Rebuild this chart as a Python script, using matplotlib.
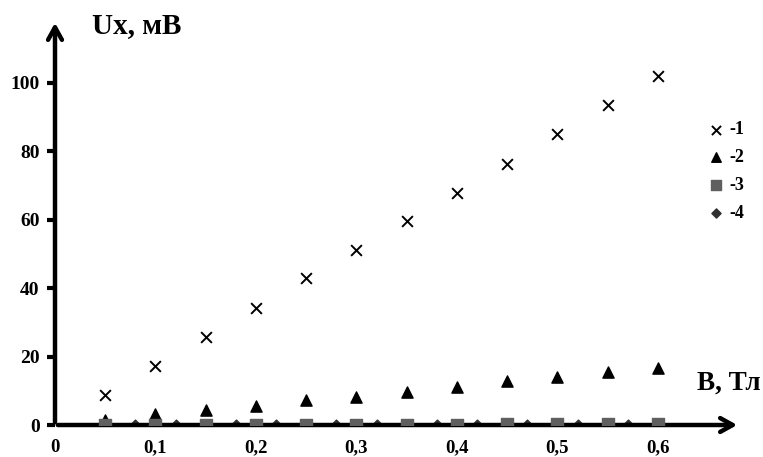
import matplotlib
matplotlib.use("Agg")
import matplotlib.pyplot as plt

B = [0.05, 0.10, 0.15, 0.20, 0.25, 0.30, 0.35, 0.40, 0.45, 0.50, 0.55, 0.60]
U1 = [8.8, 17.2, 25.7, 34.2, 43.0, 51.2, 59.6, 67.8, 76.3, 85.0, 93.6, 102.0]
U2 = [1.6, 3.2, 4.4, 5.6, 7.3, 8.3, 9.7, 11.2, 12.9, 13.9, 15.6, 16.8]
U3 = [0.1, 0.1, 0.1, 0.1, 0.1, 0.1, 0.1, 0.1, 0.2, 0.2, 0.2, 0.2]
B4 = [0.08, 0.12, 0.18, 0.22, 0.28, 0.32, 0.38, 0.42, 0.47, 0.52, 0.57]
U4 = [0.1, 0.1, 0.1, 0.1, 0.1, 0.1, 0.1, 0.1, 0.1, 0.1, 0.1]
xticks = [0, 0.1, 0.2, 0.3, 0.4, 0.5, 0.6]
xticklabels = ["0", "0,1", "0,2", "0,3", "0,4", "0,5", "0,6"]
yticks = [0, 20, 40, 60, 80, 100]
labels = ["-1", "-2", "-3", "-4"]

plt.rcParams['font.family'] = ['Liberation Serif', 'DejaVu Serif']
plt.rcParams['font.weight'] = 'bold'

fig = plt.figure(figsize=(7.63, 4.57), dpi=100)
ax = fig.add_axes([55/763, 32/457, (740-55)/763, (425-20)/457])
ax.set_xlim(0, 0.6816)
ax.set_ylim(0, 118.4)

ax.scatter(B4, U4, marker='D', s=30, color='#303030', zorder=3, label=labels[3])
ax.scatter(B, U2, marker='^', s=65, color='black', zorder=3, label=labels[1])
ax.scatter(B, U3, marker='s', s=85, color='#5f5f5f', zorder=4, label=labels[2])
ax.scatter(B, U1, marker='x', s=60, color='black', linewidths=1.4, zorder=5, label=labels[0])

for s in ax.spines.values():
    s.set_visible(False)

# axes arrows
ax.annotate('', xy=(1.0, 0), xytext=(0, 0), xycoords='axes fraction',
            arrowprops=dict(arrowstyle='->,head_length=0.9,head_width=0.5', lw=3.2, color='black'),
            annotation_clip=False)
ax.annotate('', xy=(0, 1.0), xytext=(0, 0), xycoords='axes fraction',
            arrowprops=dict(arrowstyle='->,head_length=0.9,head_width=0.5', lw=3.2, color='black'),
            annotation_clip=False)

ax.set_xticks(xticks)
ax.set_xticklabels(xticklabels, fontsize=13.5, fontweight='bold')
ax.set_yticks(yticks)
ax.set_yticklabels([str(v) for v in yticks], fontsize=14, fontweight='bold')
ax.tick_params(axis='x', length=0, pad=10)
ax.tick_params(axis='y', length=6, width=3, direction='out', pad=5)

fig.text(92/763, 1 - 26/457, "Ux, мВ", fontsize=21, fontweight='bold', va='center', ha='left')
fig.text(697/763, 1 - 383/457, "B, Тл", fontsize=19.5, fontweight='bold', va='center', ha='left')

handles, labs = ax.get_legend_handles_labels()
order = [labs.index(l) for l in labels]
leg = ax.legend([handles[i] for i in order], [labs[i] for i in order],
                loc='upper left', bbox_to_anchor=(682/763, 1 - 105/457), bbox_transform=fig.transFigure,
                frameon=False, handletextpad=-0.25, labelspacing=0.6,
                prop={'weight': 'bold', 'size': 13}, markerscale=0.85)

fig.savefig("out.png", dpi=100)
